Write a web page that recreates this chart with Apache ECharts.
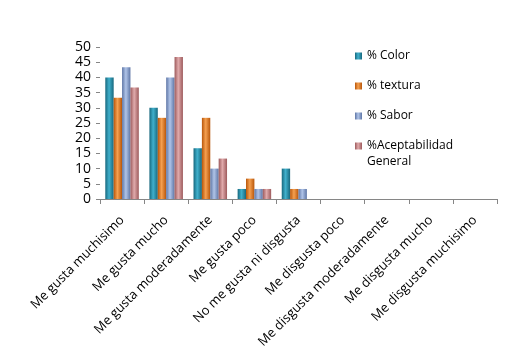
<!DOCTYPE html>
<html><head><meta charset="utf-8">
<script src="https://cdn.jsdelivr.net/npm/echarts@6/dist/echarts.min.js"></script>
<style>html,body{margin:0;padding:0;background:#fff}#c{width:532px;height:358px}</style>
</head><body><div id="c"></div>
<script>
const categories = ["Me gusta muchisimo","Me gusta mucho","Me gusta moderadamente","Me gusta poco","No me gusta ni disgusta","Me disgusta poco","Me disgusta moderadamente","Me disgusta mucho","Me disgusta muchisimo"];
const seriesNames = ["% Color","% textura","% Sabor","%Aceptabilidad\nGeneral"];
const colorVals = [40, 30, 16.7, 3.3, 10, 0, 0, 0, 0];
const texturaVals = [33.3, 26.7, 26.7, 6.7, 3.3, 0, 0, 0, 0];
const saborVals = [43.3, 40, 10, 3.3, 3.3, 0, 0, 0, 0];
const aceptVals = [36.7, 46.7, 13.3, 3.3, 0, 0, 0, 0, 0];
const yTicks = [0,5,10,15,20,25,30,35,40,45,50];

const palette = [
  ['#17687e','#40b0cc','#17687e'],
  ['#b8560a','#f5a050','#b8560a'],
  ['#5e76a6','#b0c4e8','#5e76a6'],
  ['#9d5a5c','#e0aaab','#9d5a5c']
];
const flat = ['#2a8aa6','#e46c0a','#7f98c8','#c27c7e'];
function grad(p){return new echarts.graphic.LinearGradient(0,0,1,0,[{offset:0,color:p[0]},{offset:0.45,color:p[1]},{offset:1,color:p[2]}]);}
const vals=[colorVals,texturaVals,saborVals,aceptVals];
const legendText = {fontFamily:'Open Sans',fontSize:12,color:'#000',lineHeight:16};
const chart = echarts.init(document.getElementById('c'));
chart.setOption({
  animation:false,
  color: flat,
  grid:{left:100,right:35,top:47,bottom:159,containLabel:false},
  legend:[{
    orient:'vertical', left:355, top:48, padding:0, itemWidth:7, itemHeight:7, itemGap:14,
    icon:'rect', textStyle:legendText,
    data: seriesNames.slice(0,3)
  },{
    orient:'vertical', left:355, top:122, padding:0, itemWidth:7, itemHeight:7,
    icon:'rect', textStyle:legendText,
    formatter: n => ' \n' + n,
    data: seriesNames.slice(3)
  }],
  xAxis:{type:'category',data:categories,
    axisLine:{lineStyle:{color:'#868686'}},
    axisTick:{show:true,alignWithLabel:false,length:5,lineStyle:{color:'#868686'}},
    axisLabel:{rotate:45,interval:0,margin:19,fontFamily:'Open Sans',fontSize:13,color:'#000'}},
  yAxis:{type:'value',min:yTicks[0],max:yTicks[yTicks.length-1],interval:5,
    axisLine:{show:false},
    axisTick:{show:true,length:4,lineStyle:{color:'#868686'}},
    splitLine:{show:false},
    axisLabel:{margin:9,fontFamily:'Open Sans',fontSize:14,color:'#000'}},
  series: seriesNames.map((n,i)=>({
    name:n,type:'bar',data:vals[i],barGap:'0%',barCategoryGap:'24%',
    itemStyle:{color:grad(palette[i])}
  }))
});
</script></body></html>
